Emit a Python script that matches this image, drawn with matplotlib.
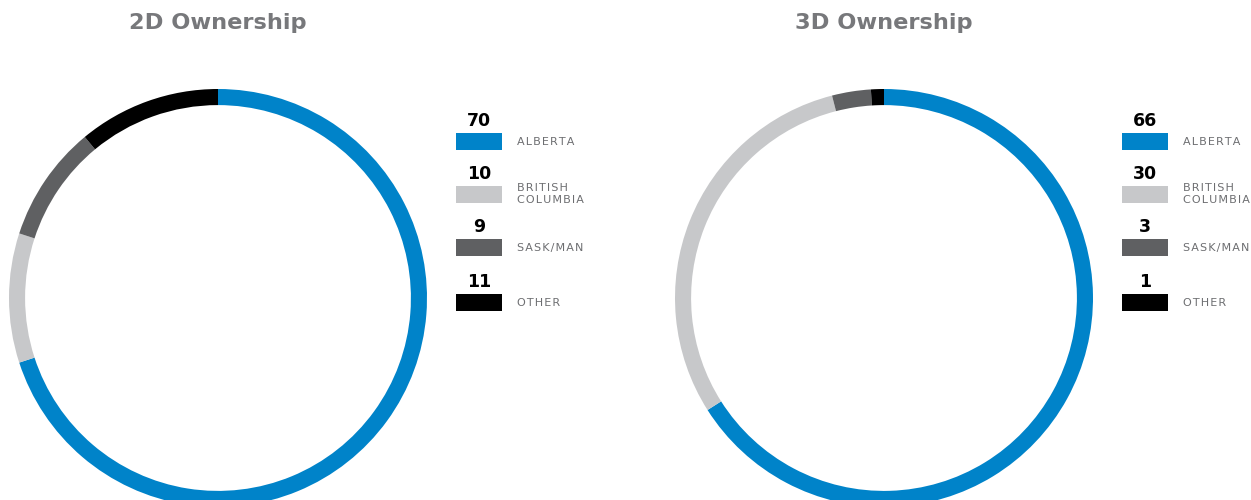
import matplotlib.pyplot as plt

# data
regions = ['ALBERTA', 'BRITISH\nCOLUMBIA', 'SASK/MAN', 'OTHER']
own_2d = [70, 10, 9, 11]
own_3d = [66, 30, 3, 1]
colors = ['#0083C9', '#C7C8CA', '#5F6062', '#000000']

W, H = 1251, 500
fig = plt.figure(figsize=(W / 100, H / 100), dpi=100)
fig.patch.set_facecolor('white')


def px_axes(x0, y0, w, h):
    # pixel box (top-left origin) -> figure axes
    return fig.add_axes([x0 / W, 1 - (y0 + h) / H, w / W, h / H])


def spaced(s):
    # fake letter spacing with hair spaces
    return '\n'.join('\u200a'.join(line) for line in s.split('\n'))


def ring(cx, values, title):
    r = 209
    cy = 298
    ax = px_axes(cx - r, cy - r, 2 * r, 2 * r)
    ax.pie(values, colors=colors, startangle=90, counterclock=False, radius=1,
           wedgeprops=dict(width=0.077, linewidth=0))
    ax.set_xlim(-1, 1)
    ax.set_ylim(-1, 1)
    ax.set_aspect('equal')
    ax.axis('off')
    fig.text(cx / W, 1 - 23 / H, title, ha='center', va='center',
             fontsize=16.2, fontweight='bold', color='#77787B')


def legend(x0, values):
    tops = [133, 186, 239, 294]
    for v, lab, c, t in zip(values, regions, colors, tops):
        ax = px_axes(x0, t, 46, 17)
        ax.barh([0], [1], height=1, color=c)
        ax.set_xlim(0, 1)
        ax.set_ylim(-0.5, 0.5)
        ax.axis('off')
        fig.text((x0 + 23) / W, 1 - (t - 12) / H, str(v), ha='center', va='center',
                 fontsize=12.5, fontweight='bold', color='black')
        ly = t + 9 if '\n' not in lab else t + 8
        fig.text((x0 + 61) / W, 1 - ly / H, spaced(lab), ha='left', va='center',
                 fontsize=8, color='#6D6E71', linespacing=1.2)


ring(218, own_2d, '2D Ownership')
ring(884, own_3d, '3D Ownership')
legend(456, own_2d)
legend(1122, own_3d)

fig.savefig('out.png', dpi=100, facecolor='white')
